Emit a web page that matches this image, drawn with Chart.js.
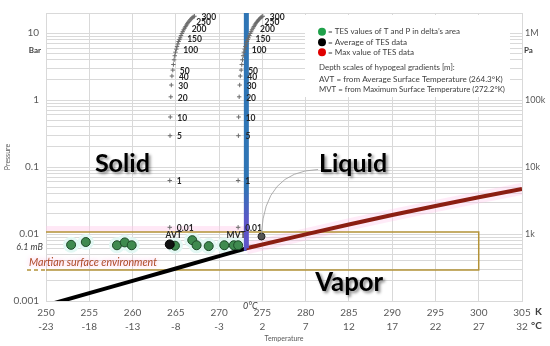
<!DOCTYPE html>
<html>
<head>
<meta charset="utf-8">
<script src="https://cdn.jsdelivr.net/npm/chart.js@4.4.1/dist/chart.umd.min.js"></script>
<style>
  html, body { margin: 0; padding: 0; background: #fff; }
</style>
</head>
<body>
<canvas id="chart" width="550" height="346"></canvas>
<script>
// axis ticks
var kelvinTicks = [250, 255, 260, 265, 270, 275, 280, 285, 290, 295, 300, 305];
var kelvinLabels = ['250', '255', '260', '265', '270', '275', '280', '285', '290', '295', '300', '305'];
var celsiusLabels = ['-23', '-18', '-13', '-8', '-3', '2', '7', '12', '17', '22', '27', '32'];
var pressureTicks = [0.001, 0.01, 0.1, 1, 10];
var barLabels = ['0.001', '0.01', '0.1', '1', '10'];
var paLabels = ['', '1k', '10k', '100k', '1M'];

// phase boundaries (T in K, P in bar)
var iceT = [250, 255, 260, 265, 270, 273.16];
var iceP = [0.00086, 0.00131, 0.0020, 0.00306, 0.00467, 0.00612];
var liqT = [273.16, 280, 285, 290, 295, 300, 305];
var liqP = [0.00612, 0.0099, 0.0139, 0.0192, 0.0262, 0.0354, 0.0472];
var meltT = [273.16, 273.15];
var meltP = [0.00612, 20];

// TES measurements
var tesT = [252.9, 254.6, 258.2, 259.1, 259.9, 264.9, 266.9, 267.4, 268.8, 270.6, 271.7, 272.2];
var tesP = [0.0069, 0.0076, 0.0068, 0.0075, 0.0068, 0.0067, 0.0081, 0.0068, 0.0066, 0.0068, 0.0068, 0.0068];
var avgT = [264.3];
var avgP = [0.0070];
var maxT = [274.9];
var maxP = [0.0092];

// hypogeal gradients: depth [m], pressure [bar], temperature rise [K]
var depths = [0.01, 1, 5, 10, 20, 30, 40, 50, 60, 70, 80, 90, 100, 110, 120, 130, 140, 150, 160, 170, 180, 190, 200, 210, 220, 230, 240, 250, 260, 270, 280, 290, 300];
var depthP = [0.0126, 0.063, 0.294, 0.56, 1.12, 1.68, 2.29, 2.81, 3.4, 4.0, 4.6, 5.2, 5.77, 6.3, 6.9, 7.5, 8.0, 8.5, 9.2, 9.9, 10.5, 11.2, 11.9, 12.5, 13.2, 13.8, 14.5, 15.1, 15.8, 16.4, 17.0, 17.5, 17.9];
var depthRise = [0, 0, 0.03, 0.06, 0.12, 0.18, 0.25, 0.35, 0.42, 0.5, 0.58, 0.66, 0.76, 0.84, 0.93, 1.02, 1.11, 1.2, 1.3, 1.4, 1.5, 1.6, 1.72, 1.82, 1.92, 2.02, 2.12, 2.24, 2.36, 2.48, 2.6, 2.72, 2.85];
var labelledDepths = [0.01, 1, 5, 10, 20, 30, 40, 50, 100, 150, 200, 250, 300];
var avtSurfaceT = 264.3;
var mvtSurfaceT = 272.2;

// Martian surface environment box
var envT = [250, 300, 300, 250];
var envP = [0.0107, 0.0107, 0.0029, 0.0029];

var gridColor = '#d9d9d9';
var tickColor = '#595959';
var fontFamily = 'Lato, "Liberation Sans", sans-serif';
Chart.defaults.font.family = fontFamily;

function pts(xs, ys) {
    return xs.map(function (x, i) { return { x: x, y: ys[i] }; });
}

var gridValues = [];
pressureTicks.slice(0, 4).forEach(function (b) {
    for (var k = 1; k < 10; k++) gridValues.push(k === 1 ? b : b * k);
});
gridValues.push(10, 20);

var avtT = depthRise.map(function (r) { return avtSurfaceT + r; });
var mvtT = depthRise.map(function (r) { return mvtSurfaceT + r; });

function fitText(ctx, txt, x, y, w, style) {
    ctx.font = style + ' 10px ' + fontFamily;
    var size = 10 * w / ctx.measureText(txt).width;
    ctx.font = style + ' ' + size.toFixed(2) + 'px ' + fontFamily;
    ctx.fillText(txt, x, y);
}

var decor = {
    id: 'decor',
    beforeDatasetsDraw: function (chart) {
        var ctx = chart.ctx, xs = chart.scales.x, ys = chart.scales.y;
        ctx.save();
        // faint pink band above the environment box
        ctx.fillStyle = 'rgba(255,205,235,0.45)';
        var yt = ys.getPixelForValue(envP[0]);
        ctx.fillRect(xs.left, yt - 6, xs.getPixelForValue(273.15) - xs.left, 6);
        // legend panel
        ctx.fillStyle = '#fff';
        ctx.fillRect(305, 15, 205, 82);
        ctx.restore();
    },
    afterDatasetsDraw: function (chart) {
        var ctx = chart.ctx, xs = chart.scales.x, ys = chart.scales.y;
        ctx.save();

        // dashed lead-in of the environment box
        ctx.strokeStyle = '#b39237';
        ctx.lineWidth = 1.5;
        ctx.setLineDash([4, 3]);
        var yb = ys.getPixelForValue(envP[2]);
        ctx.beginPath();
        ctx.moveTo(27, yb);
        ctx.lineTo(xs.left, yb);
        ctx.stroke();
        ctx.setLineDash([]);

        // depth labels
        ctx.fillStyle = '#262626';
        ctx.textBaseline = 'middle';
        ctx.textAlign = 'left';
        ctx.font = 'bold 8.5px ' + fontFamily;
        [3, 4].forEach(function (di) {
            var meta = chart.getDatasetMeta(di);
            labelledDepths.forEach(function (d) {
                var el = meta.data[depths.indexOf(d)];
                ctx.fillText(String(d), el.x + 7, el.y + 1);
            });
        });

        // AVT / MVT
        ctx.textAlign = 'center';
        ctx.textBaseline = 'alphabetic';
        ctx.font = 'bold 8.5px ' + fontFamily;
        ctx.fillText('AVT', xs.getPixelForValue(avtSurfaceT) + 4, 238);
        ctx.fillText('MVT', xs.getPixelForValue(mvtSurfaceT) - 2, 238);

        // 0 C marker
        ctx.fillStyle = '#404040';
        ctx.font = 'italic 9px ' + fontFamily;
        ctx.fillText('0°C', xs.getPixelForValue(273.15) + 4, 309);

        // axis side labels
        ctx.fillStyle = '#404040';
        ctx.textBaseline = 'middle';
        ctx.textAlign = 'right';
        ctx.font = 'bold 8px ' + fontFamily;
        ctx.fillText('Bar', 41, ys.getPixelForValue(5.6));
        ctx.font = 'italic 9px ' + fontFamily;
        ctx.fillText('6.1 mB', 43, ys.getPixelForValue(0.0063));
        ctx.textAlign = 'left';
        ctx.font = 'bold 8px ' + fontFamily;
        ctx.fillText('Pa', 524, ys.getPixelForValue(5.6));
        ctx.font = 'bold 10px ' + fontFamily;
        ctx.fillText('K', 535, 312);
        ctx.fillText('°C', 531, 326);

        // Martian surface environment
        ctx.save();
        ctx.shadowColor = 'rgba(255,160,220,0.8)';
        ctx.shadowBlur = 5;
        ctx.fillStyle = '#ad4a26';
        ctx.textBaseline = 'alphabetic';
        fitText(ctx, 'Martian surface environment', 29, 265.5, 128, 'italic');
        ctx.restore();

        // phase names
        ctx.save();
        ctx.shadowColor = 'rgba(0,0,0,0.45)';
        ctx.shadowOffsetX = 2;
        ctx.shadowOffsetY = 2;
        ctx.shadowBlur = 3;
        ctx.fillStyle = '#000';
        ctx.textBaseline = 'alphabetic';
        fitText(ctx, 'Solid', xs.getPixelForValue(255.65), ys.getPixelForValue(0.083), 55, 'bold');
        fitText(ctx, 'Liquid', xs.getPixelForValue(281.55), ys.getPixelForValue(0.083), 68, 'bold');
        fitText(ctx, 'Vapor', xs.getPixelForValue(281.1), ys.getPixelForValue(0.00141), 68, 'bold');
        ctx.restore();

        // connector from max dot to "Liquid"
        var dot = chart.getDatasetMeta(2).data[0];
        var ex = xs.getPixelForValue(281.55) - 1, ey = ys.getPixelForValue(0.083) - 3;
        ctx.strokeStyle = '#9a9a9a';
        ctx.lineWidth = 0.8;
        ctx.beginPath();
        ctx.moveTo(dot.x, dot.y - 3);
        ctx.quadraticCurveTo(dot.x + 3, ey + 2, ex, ey);
        ctx.stroke();

        // legend
        var ly = [31.7, 42.3, 52.3];
        var lc = ['#1fa14a', '#000000', '#e00000'];
        var lt = ['= TES values of T and P in delta\u2019s area', '= Average of TES data', '= Max value of TES data'];
        var lw = [132, 79, 86];
        ctx.textBaseline = 'middle';
        ctx.textAlign = 'left';
        for (var i = 0; i < 3; i++) {
            ctx.fillStyle = lc[i];
            ctx.beginPath();
            ctx.arc(322, ly[i], 4, 0, Math.PI * 2);
            ctx.fill();
            ctx.fillStyle = '#404040';
            fitText(ctx, lt[i], 328, ly[i], lw[i], '');
        }
        fitText(ctx, 'Depth scales of hypogeal gradients [m]:', 319, 67.7, 136, '');
        fitText(ctx, 'AVT = from Average Surface Temperature (264.3°K)', 319, 79, 184, '');
        fitText(ctx, 'MVT = from Maximum Surface Temperature (272.2°K)', 319, 89.3, 186, '');

        ctx.restore();
    }
};

var ctx = document.getElementById('chart');
new Chart(ctx, {
    type: 'scatter',
    data: {
        datasets: [
            { data: pts(tesT, tesP), pointRadius: 4.5, backgroundColor: '#3f8a4f', borderColor: '#1d4a28', borderWidth: 1, order: 1 },
            { data: pts(avgT, avgP), pointRadius: 4.5, backgroundColor: '#111', borderColor: '#000', borderWidth: 1, order: 0 },
            { data: pts(maxT, maxP), pointRadius: 3.5, backgroundColor: '#555', borderColor: '#222', borderWidth: 1, order: 1 },
            { data: pts(avtT, depthP), pointStyle: 'cross', pointRadius: 2.2, borderColor: '#6b6b6b', borderWidth: 1, order: 3 },
            { data: pts(mvtT, depthP), pointStyle: 'cross', pointRadius: 2.2, borderColor: '#6b6b6b', borderWidth: 1, order: 3 },
            {
                data: pts(meltT, meltP), showLine: true, pointRadius: 0, borderWidth: 5, order: 4,
                borderColor: function (c) {
                    var ch = c.chart;
                    if (!ch.chartArea) return '#2f75b5';
                    var y = ch.scales.y;
                    var g = ch.ctx.createLinearGradient(0, y.getPixelForValue(0.05), 0, y.getPixelForValue(0.015));
                    g.addColorStop(0, '#2f75b5');
                    g.addColorStop(1, '#5e55c8');
                    return g;
                }
            },
            { data: pts(liqT, liqP), showLine: true, pointRadius: 0, borderWidth: 4, borderColor: '#8b1e12', order: 5 },
            { data: pts(iceT, iceP), showLine: true, pointRadius: 0, borderWidth: 4, borderColor: '#000', order: 5 },
            { data: pts(envT, envP), showLine: true, pointRadius: 0, borderWidth: 1.5, borderColor: '#b39237', order: 7 },
            { data: pts(liqT, liqP), showLine: true, pointRadius: 0, borderWidth: 12, borderColor: 'rgba(255,190,232,0.3)', order: 9 },
            { data: pts(tesT, tesP), pointRadius: 8, backgroundColor: '#e3f8f4', borderWidth: 0, order: 10 }
        ]
    },
    options: {
        responsive: false,
        animation: false,
        devicePixelRatio: 1,
        layout: { padding: { top: 11, left: 0, right: 0, bottom: 0 } },
        plugins: { legend: { display: false }, tooltip: { enabled: false } },
        scales: {
            x: {
                type: 'linear', min: 250, max: 305,
                afterBuildTicks: function (s) { s.ticks = kelvinTicks.map(function (v) { return { value: v }; }); },
                afterFit: function (s) { s.height = 45; },
                grid: { color: gridColor, drawTicks: false },
                border: { color: gridColor },
                ticks: {
                    padding: 5, color: tickColor, maxRotation: 0, autoSkip: false,
                    font: { size: 10, lineHeight: 1.4 },
                    callback: function (v, i) { return [kelvinLabels[i], celsiusLabels[i]]; }
                },
                title: { display: true, text: 'Temperature', color: tickColor, font: { size: 7 }, padding: { top: 0, bottom: 3 } }
            },
            y: {
                type: 'logarithmic', position: 'left', min: 0.001, max: 20,
                afterBuildTicks: function (s) { s.ticks = gridValues.map(function (v) { return { value: v }; }); },
                afterFit: function (s) { s.width = 46; },
                grid: { color: gridColor, drawTicks: false },
                border: { color: gridColor },
                ticks: {
                    autoSkip: false, padding: 7, color: tickColor, font: { size: 10 },
                    callback: function (v) { var i = pressureTicks.indexOf(v); return i >= 0 ? barLabels[i] : ''; }
                },
                title: { display: true, text: 'Pressure', color: tickColor, font: { size: 7 }, padding: { top: 4, bottom: 0 } }
            },
            y2: {
                type: 'logarithmic', position: 'right', min: 0.001, max: 20,
                afterBuildTicks: function (s) { s.ticks = pressureTicks.map(function (v) { return { value: v }; }); },
                afterFit: function (s) { s.width = 28; },
                grid: { display: false, drawTicks: false },
                border: { color: gridColor },
                ticks: {
                    autoSkip: false, padding: 3, color: tickColor, font: { size: 9 },
                    callback: function (v) { return paLabels[pressureTicks.indexOf(v)]; }
                }
            }
        }
    },
    plugins: [decor]
});
</script>
</body>
</html>
